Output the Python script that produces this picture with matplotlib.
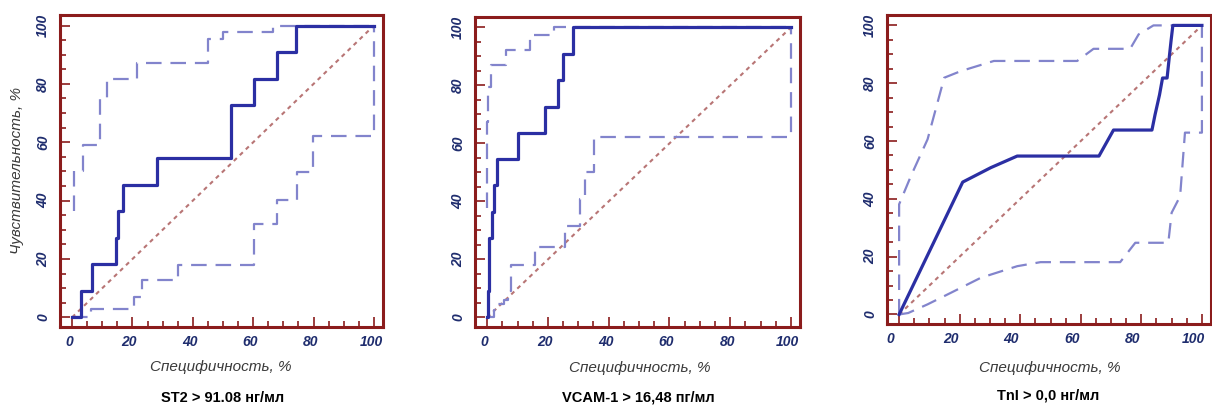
import numpy as np
import matplotlib.pyplot as plt
import matplotlib.transforms as mtransforms
from matplotlib.ticker import MultipleLocator

plt.rcParams['font.family'] = ['Liberation Sans', 'DejaVu Sans']

# ST2 > 91.08 нг/мл (ступенчатая ROC)
st2_x = [0, 2.8, 6.7, 14.6, 15.3, 16.8, 28.0, 52.6, 60.3, 68.0, 74.1, 100]
st2_y = [0, 9.1, 18.2, 27.3, 36.4, 45.5, 54.5, 72.7, 81.8, 90.9, 100, 100]
st2_up_x = [0.5, 0.5, 3.7, 9.3, 11.5, 21.4, 45.1, 50.0, 66.7, 100]
st2_up_y = [36.4, 50.0, 59.1, 75.0, 81.8, 87.2, 95.5, 97.7, 100, 100]
st2_lo_x = [0, 6.2, 20.5, 23.0, 35.2, 60.3, 67.8, 74.4, 79.9, 100]
st2_lo_y = [0, 2.7, 7.0, 12.7, 17.8, 32.0, 40.3, 49.8, 62.3, 100]

# VCAM-1 > 16,48 пг/мл
vcam_x = [0, 0.2, 0.7, 1.5, 2.3, 3.4, 10.3, 19.1, 23.3, 24.9, 28.2, 100]
vcam_y = [0, 9.1, 27.3, 36.4, 45.5, 54.5, 63.6, 72.7, 81.8, 90.9, 100, 100]
vcam_up_x = [0, 0, 0.4, 1.2, 6.2, 14.2, 21.9, 100]
vcam_up_y = [37.7, 67.5, 79.5, 87.2, 92.1, 97.5, 100, 100]
vcam_lo_x = [0, 2.1, 3.5, 5.4, 6.7, 7.8, 15.8, 25.7, 30.7, 32.3, 35.1, 100]
vcam_lo_y = [0, 2.7, 4.5, 6.0, 9.1, 18.2, 24.3, 31.7, 40.9, 50.3, 62.3, 100]

# TnI > 0,0 нг/мл (сглаженная ROC)
tni_x = [0, 21.0, 30.3, 39.0, 66.0, 70.8, 83.5, 84.5, 86.0, 87.0, 88.5, 89.2, 89.8, 90.4, 100]
tni_y = [0, 45.8, 50.8, 54.8, 54.8, 63.8, 63.8, 69.0, 76.0, 81.8, 81.8, 88.8, 94.6, 100, 100]
tni_up_x = [0, 0, 3.9, 9.4, 14.9, 20.4, 31.3, 58.8, 64.2, 76.3, 79.1, 84.0, 100]
tni_up_y = [0, 38.1, 47.9, 60.6, 81.9, 84.2, 87.7, 87.7, 91.9, 91.9, 96.9, 100, 100]
tni_lo_x = [0, 3.0, 9.4, 17.1, 27.0, 39.0, 46.7, 73.0, 78.0, 88.9, 90.0, 92.8, 94.4, 100, 100]
tni_lo_y = [0, 0.5, 3.5, 7.5, 12.7, 16.7, 18.1, 18.1, 24.8, 24.8, 35.2, 40.9, 62.9, 62.9, 100]

titles = ['ST2 > 91.08 нг/мл', 'VCAM-1 > 16,48 пг/мл', 'TnI > 0,0 нг/мл']

main_c = '#2b2fa3'
ci_c = '#8284cc'
diag_c = '#b87575'
frame_c = '#8b1c1c'
tick_c = '#1f2d6e'

fig = plt.figure(figsize=(12.12, 4.07), dpi=100)

# положение осей в пикселях: left, bottom(сверху), right, top
boxes = [(60, 327, 383, 15), (475, 327, 800, 17), (887, 324, 1211, 15)]
label_shift = [-3, -3, -9]
W, H = 1212, 407
axes = []
for (l, b, r, t) in boxes:
    ax = fig.add_axes([l / W, 1 - b / H, (r - l) / W, (b - t) / H])
    axes.append(ax)

data = [
    (st2_x, st2_y, st2_up_x, st2_up_y, st2_lo_x, st2_lo_y, 'steps-post'),
    (vcam_x, vcam_y, vcam_up_x, vcam_up_y, vcam_lo_x, vcam_lo_y, 'steps-post'),
    (tni_x, tni_y, tni_up_x, tni_up_y, tni_lo_x, tni_lo_y, 'default'),
]

for ax, (mx, my, ux, uy, lx, ly, ds), sh in zip(axes, data, label_shift):
    ax.plot([0, 100], [0, 100], color=diag_c, lw=1.5, dashes=[2, 2])
    ax.plot(ux, uy, color=ci_c, lw=1.6, dashes=[7, 4], drawstyle=ds)
    ax.plot(lx, ly, color=ci_c, lw=1.6, dashes=[7, 4], drawstyle=ds)
    ax.plot(mx, my, color=main_c, lw=2.3, drawstyle=ds)

    ax.set_xlim(-4, 103)
    ax.set_ylim(-3.3, 103.6)
    ax.xaxis.set_major_locator(MultipleLocator(20))
    ax.xaxis.set_minor_locator(MultipleLocator(5))
    ax.yaxis.set_major_locator(MultipleLocator(20))
    ax.yaxis.set_minor_locator(MultipleLocator(5))
    ax.tick_params(which='both', direction='in', color=frame_c, width=1.2,
                   top=False, right=False)
    ax.tick_params(which='major', length=7, labelsize=10, labelcolor=tick_c, pad=6)
    ax.tick_params(which='minor', length=4)
    ax.tick_params(axis='y', labelrotation=90, pad=7)
    offset = mtransforms.ScaledTranslation(sh / 100, 0, fig.dpi_scale_trans)
    for lab in ax.get_xticklabels():
        lab.set_transform(lab.get_transform() + offset)
    for lab in ax.get_xticklabels() + ax.get_yticklabels():
        lab.set_fontweight('bold')
        lab.set_fontstyle('italic')
    for lab in ax.get_yticklabels():
        lab.set_va('center')
    for s in ax.spines.values():
        s.set_color(frame_c)
        s.set_linewidth(2.2)

# подписи осей и заголовки
xl_pos = [(221, 367), (640, 368), (1050, 368)]
ti_pos = [(223, 398), (638, 397), (1048, 395)]
for (xx, yy) in xl_pos:
    fig.text(xx / W, 1 - yy / H, 'Специфичность, %', ha='center', va='center',
             fontsize=11, fontstyle='italic', color='#3a3a3a')
for t, (xx, yy) in zip(titles, ti_pos):
    fig.text(xx / W, 1 - yy / H, t, ha='center', va='center',
             fontsize=10.5, fontweight='bold', color='black')
fig.text(17 / W, 1 - 170 / H, 'Чувствительность, %', ha='center', va='center',
         rotation=90, fontsize=11, fontstyle='italic', color='#3a3a3a')

fig.savefig('out.png', dpi=100)
